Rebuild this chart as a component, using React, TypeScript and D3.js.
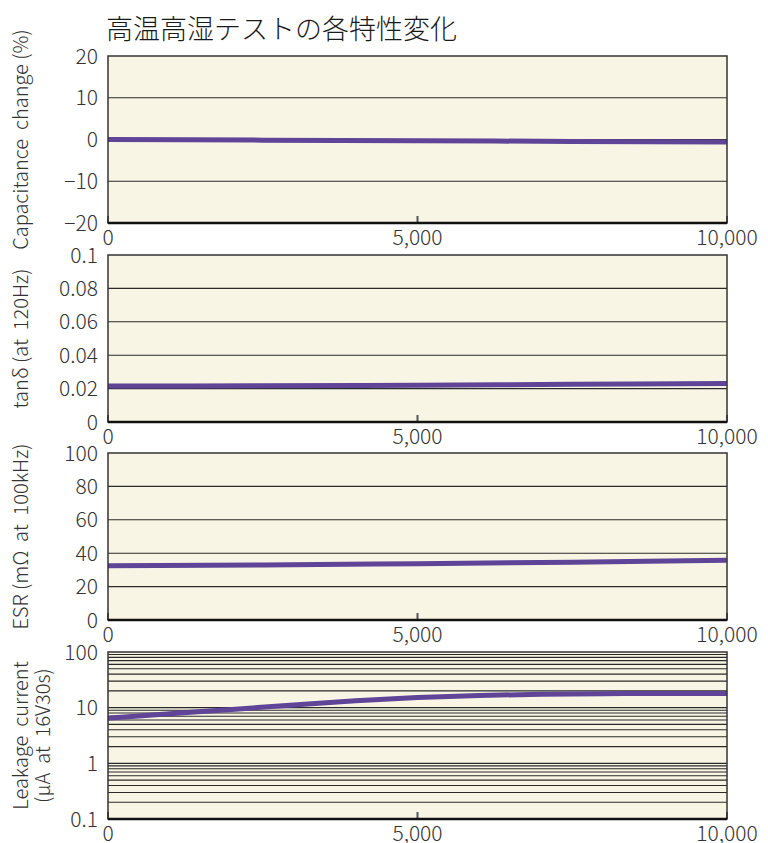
import React, { useEffect, useRef } from 'react';
import * as d3 from 'd3';

const title = '高温高湿テストの各特性変化';
const hours = [0, 2500, 5000, 7500, 10000];
const xTicks = [0, 5000, 10000];

const capChange = [0, -0.15, -0.3, -0.45, -0.6];
const tanDelta = [0.0215, 0.0217, 0.022, 0.0226, 0.023];
const esr = [32.5, 33, 33.7, 34.6, 35.8];

const leakHours = [0, 1000, 2000, 3000, 4000, 5000, 6000, 7000, 8000, 9000, 10000];
const leakage = [6.5, 7.8, 9.3, 11.2, 13.3, 15.2, 16.6, 17.4, 17.8, 18, 18];

const capTicks = [20, 10, 0, -10, -20];
const tanTicks = [0.1, 0.08, 0.06, 0.04, 0.02, 0];
const esrTicks = [100, 80, 60, 40, 20, 0];
const leakTicks = [100, 10, 1, 0.1];

const FONT = '"Noto Sans CJK JP", "Noto Sans", sans-serif';
const LINE = '#5f4497';
const BG = '#f8f5e4';

const App = () => {
  const svgRef = useRef<SVGSVGElement>(null);

  useEffect(() => {
    const svg = d3.select(svgRef.current);
    svg.selectAll('*').remove();

    const left = 108;
    const right = 727;
    const panelH = 167;
    const x = d3.scaleLinear().domain([0, 10000]).range([left, right]);

    svg.append('text')
      .attr('x', 106).attr('y', 39)
      .style('font-family', FONT).style('font-size', '27px').style('font-weight', 300).style('fill', '#1a1a1a')
      .text(title);

    const panels = [
      { top: 56, domain: [-20, 20], ticks: capTicks, grid: [10, 0, -10], xs: hours, ys: capChange, fmt: (d: number) => d < 0 ? '−' + Math.abs(d) : String(d), label: ['Capacitance  change (%)'], log: false },
      { top: 255, domain: [0, 0.1], ticks: tanTicks, grid: [0.08, 0.06, 0.04, 0.02], xs: hours, ys: tanDelta, fmt: (d: number) => String(d), label: ['tanδ (at  120Hz)'], log: false },
      { top: 453, domain: [0, 100], ticks: esrTicks, grid: [80, 60, 40, 20], xs: hours, ys: esr, fmt: (d: number) => String(d), label: ['ESR (mΩ  at  100kHz)'], log: false },
      { top: 652, domain: [0.1, 100], ticks: leakTicks, grid: [] as number[], xs: leakHours, ys: leakage, fmt: (d: number) => String(d), label: ['Leakage  current', '(μA  at  16V30s)'], log: true },
    ];

    panels.forEach(p => {
      const bottom = p.top + panelH;
      const y = p.log
        ? d3.scaleLog().domain(p.domain).range([bottom, p.top])
        : d3.scaleLinear().domain(p.domain).range([bottom, p.top]);
      const g = svg.append('g');

      g.append('rect')
        .attr('x', left).attr('y', p.top)
        .attr('width', right - left).attr('height', panelH)
        .attr('fill', BG);

      // log panel gets a line at every minor tick
      let grid = p.grid;
      if (p.log) {
        grid = [];
        [0.1, 1, 10].forEach(dec => {
          for (let k = 1; k <= 10; k++) {
            const v = dec * k;
            if (v > 0.1 && v < 100) grid.push(v);
          }
        });
        grid = Array.from(new Set(grid.map(v => +v.toPrecision(3))));
      }
      g.selectAll('.grid')
        .data(grid)
        .enter()
        .append('line')
        .attr('x1', left).attr('x2', right)
        .attr('y1', d => y(d)).attr('y2', d => y(d))
        .attr('stroke', '#2a2a2a')
        .attr('stroke-width', 1.1);

      const line = d3.line<number>()
        .x((d, i) => x(p.xs[i]))
        .y(d => y(d))
        .curve(d3.curveMonotoneX);
      g.append('path')
        .datum(p.ys)
        .attr('fill', 'none')
        .attr('stroke', LINE)
        .attr('stroke-width', 5)
        .attr('d', line);

      // small inward ticks on the x axis
      g.selectAll('.xmark')
        .data(xTicks)
        .enter()
        .append('line')
        .attr('x1', d => x(d)).attr('x2', d => x(d))
        .attr('y1', bottom).attr('y2', bottom - 7)
        .attr('stroke', '#555').attr('stroke-width', 2);

      // frame
      g.append('rect')
        .attr('x', left).attr('y', p.top)
        .attr('width', right - left).attr('height', panelH)
        .attr('fill', 'none').attr('stroke', '#333').attr('stroke-width', 1.5);
      g.append('line')
        .attr('x1', left).attr('x2', right)
        .attr('y1', bottom).attr('y2', bottom)
        .attr('stroke', '#111').attr('stroke-width', 2.5);

      g.selectAll('.ytick')
        .data(p.ticks)
        .enter()
        .append('text')
        .attr('x', 98)
        .attr('y', d => y(d) + 7.5)
        .attr('text-anchor', 'end')
        .style('font-family', FONT).style('font-size', '21px').style('font-weight', 300).style('fill', '#333')
        .text(d => p.fmt(d));

      g.selectAll('.xtick')
        .data(xTicks)
        .enter()
        .append('text')
        .attr('x', d => x(d))
        .attr('y', bottom + 22)
        .attr('text-anchor', 'middle')
        .style('font-family', FONT).style('font-size', '21px').style('font-weight', 300).style('fill', '#333')
        .text(d => d3.format(',')(d));

      const cy = p.top + panelH / 2;
      p.label.forEach((t, i) => {
        const lx = p.label.length === 1 ? 28 : 28 + i * 22;
        g.append('text')
          .attr('transform', `translate(${lx},${cy}) rotate(-90)`)
          .attr('text-anchor', 'middle')
          .style('font-family', FONT).style('font-size', '20px').style('font-weight', 300).style('fill', '#333')
          .style('white-space', 'pre')
          .text(t);
      });
    });
  }, []);

  return (
    <div>
      <svg ref={svgRef} width={768} height={843} style={{ position: 'absolute', left: 0, top: 0, display: 'block' }}></svg>
    </div>
  );
};

export default App;
